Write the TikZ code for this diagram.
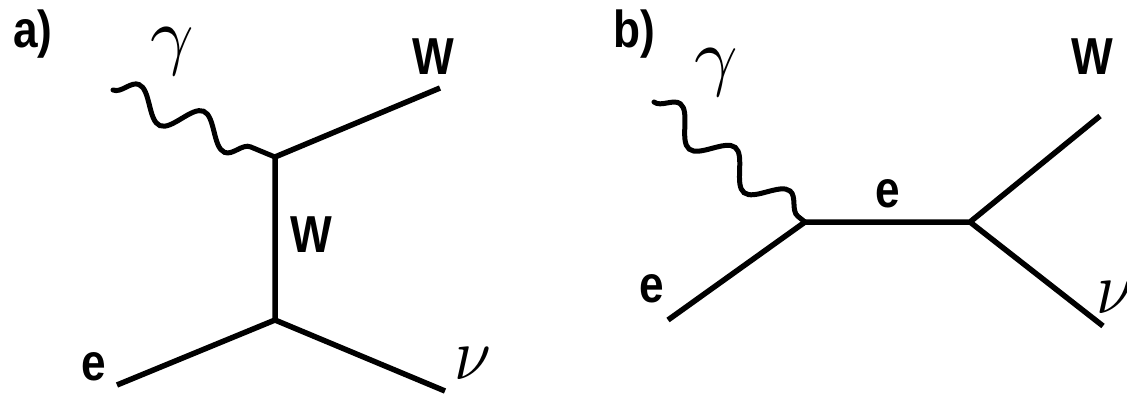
\documentclass[tikz,border=0pt]{standalone}
\usepackage{fontspec}
\setmainfont{Liberation Sans}
\usepackage{graphicx}
\usetikzlibrary{decorations.pathmorphing}
\tikzset{
  fline/.style={line width=5.5pt, line join=miter, line cap=butt},
  photon/.style={line width=5pt, line cap=round, decorate,
    decoration={snake, segment length=70pt, amplitude=15pt}},
  lbl/.style={inner sep=0pt, font=\fontsize{52}{60}\selectfont\bfseries},
  glbl/.style={inner sep=0pt, font=\normalsize},
}
\newcommand{\nar}[1]{\scalebox{0.85}[1]{#1}}
\newcommand{\mysym}[1]{\scalebox{7.6}{$#1$}}
\newcommand{\mynu}{\scalebox{6.6}[7.4]{$\nu$}}
\begin{document}
\begin{tikzpicture}[x=1pt,y=-1pt]
\useasboundingbox (0,0) rectangle (1127,394);
% ---------- panel a ----------
\coordinate (ga) at (113,90);
\coordinate (va1) at (275,157);
\coordinate (va2) at (275,320);
\coordinate (wa) at (440,88);
\coordinate (ea) at (117,385);
\coordinate (nua) at (445,391);
\draw[fline] (ea) -- (va2) -- (nua);
\draw[fline] (va2) -- (va1) -- (wa);
\draw[photon] (ga) -- (va1);
\node[lbl] (la) at (33,34) {\nar{a)}};
\node[glbl] (lga) at (172,52) {\mysym{\gamma}};
\node[lbl] (lwa) at (433,57) {\nar{W}};
\node[lbl] (lwm) at (311,235) {\nar{W}};
\node[lbl] (lea) at (94,367) {\nar{e}};
\node[glbl] (lnua) at (473,364) {\mynu};
% ---------- panel b ----------
\coordinate (gb) at (654,102);
\coordinate (vb1) at (805,222);
\coordinate (vb2) at (970,222);
\coordinate (eb) at (668,320);
\coordinate (wb) at (1100,116);
\coordinate (nub) at (1103,326);
\draw[fline] (eb) -- (vb1) -- (vb2) -- (wb);
\draw[fline] (vb2) -- (nub);
\draw[photon] (gb) -- (vb1);
\node[lbl] (lb) at (634,34) {\nar{b)}};
\node[glbl] (lgb) at (716,73) {\mysym{\gamma}};
\node[lbl] (lwb) at (1092,57) {\nar{W}};
\node[lbl] (leb) at (888,194) {\nar{e}};
\node[lbl] (lem) at (652,289) {\nar{e}};
\node[glbl] (lnub) at (1115,298) {\mynu};
\end{tikzpicture}
\end{document}
